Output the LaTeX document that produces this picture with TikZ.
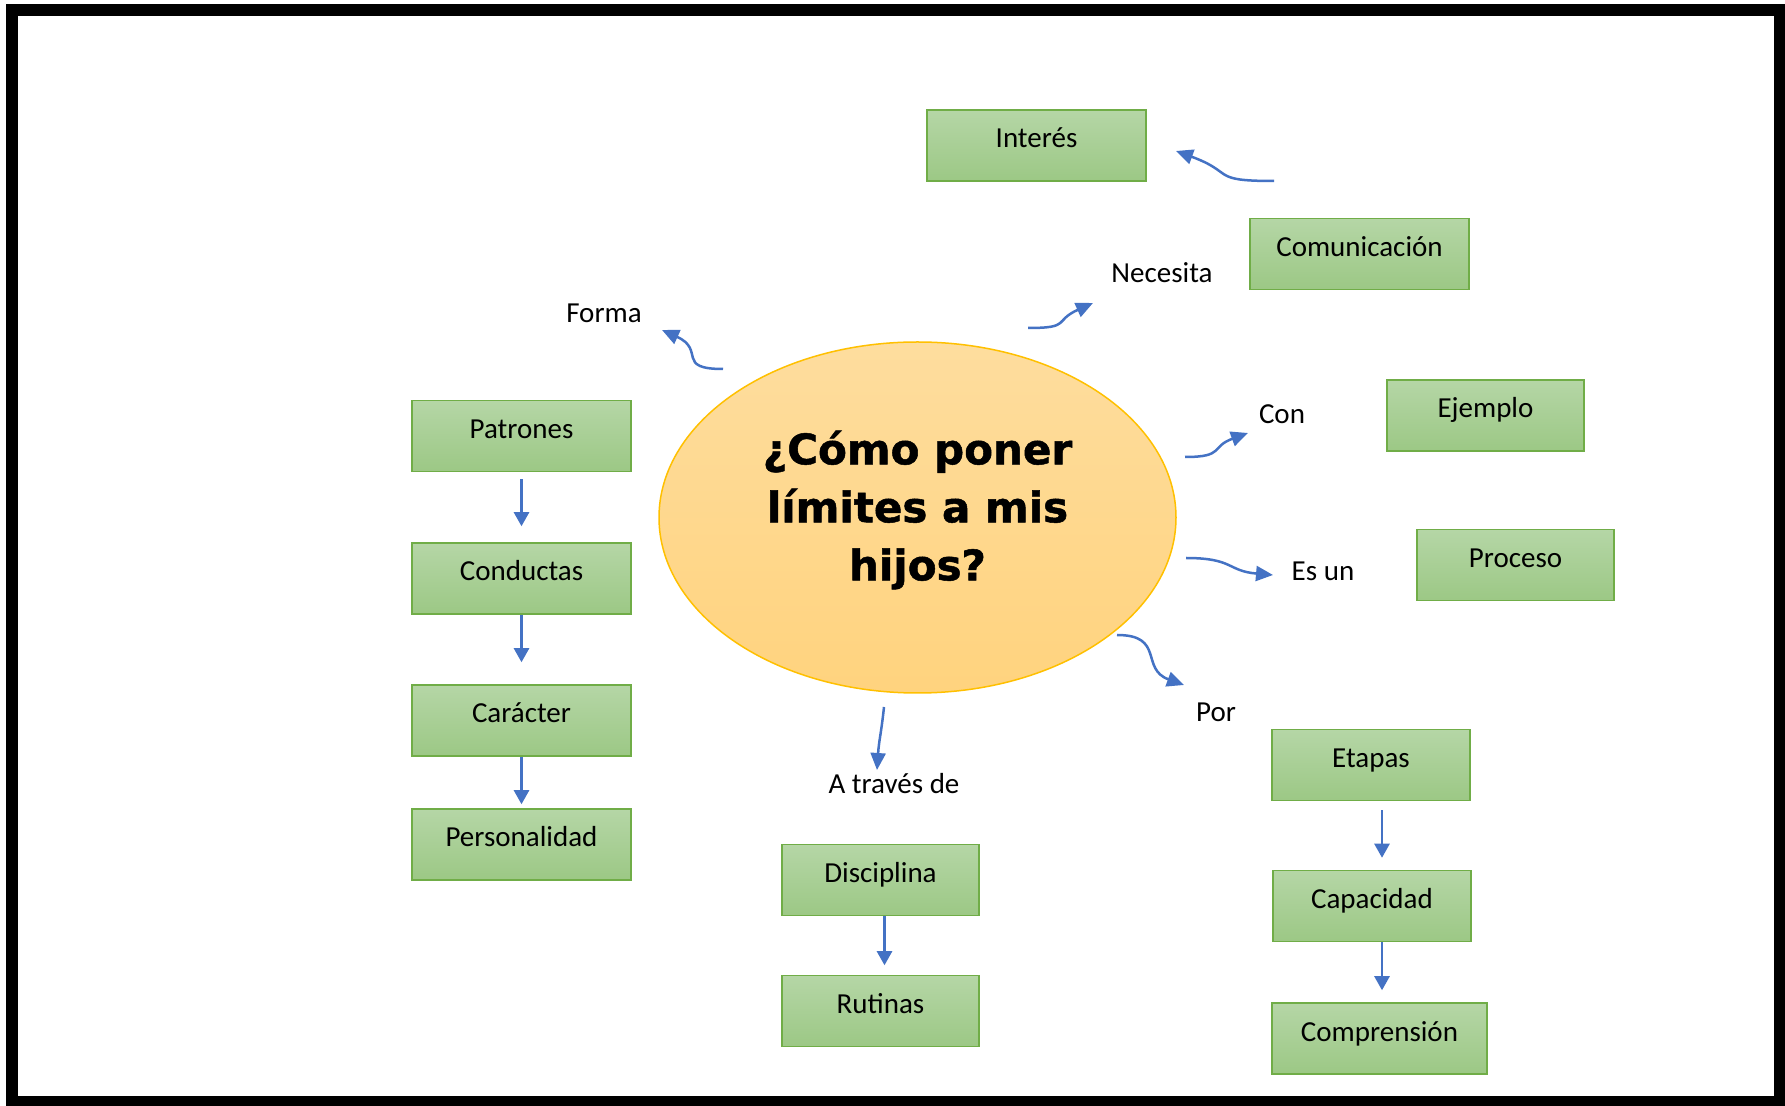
\documentclass[tikz,border=0pt]{standalone}
\usepackage{fontspec}
\setmainfont{Carlito}
\newfontfamily\titlefont[BoldFeatures={FakeBold=1.2}]{DejaVu Sans}
\usetikzlibrary{arrows.meta, shapes.geometric}
\definecolor{linkblue}{HTML}{4472C4}
\definecolor{boxtop}{HTML}{B5D6A6}
\definecolor{boxbot}{HTML}{9CC885}
\definecolor{boxedge}{HTML}{70AD47}
\definecolor{bubtop}{HTML}{FEDD9E}
\definecolor{bubbot}{HTML}{FFD37E}
\definecolor{bubedge}{HTML}{FFC000}

\begin{document}
\begin{tikzpicture}[x=0.5pt, y=-0.5pt,
    box/.style={draw=boxedge, line width=0.75pt, top color=boxtop, bottom color=boxbot,
        minimum height=35.5pt, inner sep=0pt, text height=10pt, text depth=7.5pt,
        font=\fontsize{14.5}{17}\selectfont},
    lbl/.style={inner sep=0pt, anchor=base, font=\fontsize{14.5}{17}\selectfont},
    link/.style={draw=linkblue, line width=1.25pt, -{Triangle[length=7pt,width=7.5pt]}},
    wavy/.style={draw=linkblue, line width=1.25pt, -{Triangle[length=8.5pt,width=7.5pt]}}]
            % frame
            \useasboundingbox (0,0) rectangle (1785,1106);
            \fill[white] (0,0) rectangle (1785,1106);
            \draw[line width=6pt] (12,10) rectangle (1780,1102);

            % centre
            \node[ellipse, draw=bubedge, line width=0.75pt, top color=bubtop, bottom color=bubbot,
                minimum width=258.5pt, minimum height=175.5pt, inner sep=0pt] (pregunta) at (917.5,517.5) {};
            \node[align=center, inner sep=0pt, font=\titlefont\bfseries\fontsize{21}{29}\selectfont]
                (titulo) at (917.5,510) {¿Cómo poner\\límites a mis\\hijos?};

            % boxes
            \foreach \n/\x/\y/\w/\t in {
                interes/1036.5/145.5/219/Interés,
                comunicacion/1359.5/254/219/Comunicación,
                ejemplo/1485.5/415.5/197/Ejemplo,
                proceso/1515.5/565/197/Proceso,
                patrones/521.5/436/219/Patrones,
                conductas/521.5/578.5/219/Conductas,
                caracter/521.5/720.5/219/Carácter,
                personalidad/521.5/844.5/219/Personalidad,
                disciplina/880.5/880/197/Disciplina,
                rutinas/880.5/1011/197/Rutinas,
                etapas/1371/765/198/Etapas,
                capacidad/1372/906/198/Capacidad,
                comprension/1379.5/1038.5/215/Comprensión}{
                \node[box, minimum width=\w*0.5pt] (\n) at (\x,\y) {\t};
            }

            % linking words
            \node[lbl] (forma) at (604,323) {Forma};
            \node[lbl] (necesita) at (1162,283) {Necesita};
            \node[lbl] (con) at (1282,424) {Con};
            \node[lbl] (esun) at (1323,581) {Es un};
            \node[lbl] (por) at (1216,722) {Por};
            \node[lbl] (atraves) at (894,794) {A través de};

            % ends of the curved arrows
            \coordinate (formaS) at (723,369);    \coordinate (formaE) at (662,330);
            \coordinate (necesitaS) at (1028,328); \coordinate (necesitaE) at (1093,303);
            \coordinate (interesS) at (1274,181); \coordinate (interesE) at (1176,151);
            \coordinate (conS) at (1185,457);     \coordinate (conE) at (1248,433);
            \coordinate (esunS) at (1186,558);    \coordinate (esunE) at (1273,575);
            \coordinate (porS) at (1117,635);     \coordinate (porE) at (1184,685);
            \coordinate (atravesS) at (884,707);  \coordinate (atravesE) at (877,770);

            % curved arrows
            \draw[wavy] (formaS) .. controls +(-48,0) and +(44,20) .. (formaE);
            \draw[wavy] (necesitaS) .. controls +(44,0) and +(-40,18) .. (necesitaE);
            \draw[wavy] (interesS) .. controls +(-65,0) and +(60,22) .. (interesE);
            \draw[wavy] (conS) .. controls +(40,0) and +(-38,14) .. (conE);
            \draw[wavy] (esunS) .. controls +(48,0) and +(-46,-4) .. (esunE);
            \draw[wavy] (porS) .. controls +(48,0) and +(-44,-16) .. (porE);
            \draw[wavy] (atravesS) .. controls +(-3,28) and +(2,-30) .. (atravesE);

            % straight arrows
            \draw[link, shorten <=3.5pt, shorten >=8pt] (patrones) -- (conductas);
            \draw[link, shorten >=11pt] (conductas) -- (caracter);
            \draw[link, shorten >=2pt] (caracter) -- (personalidad);
            \draw[link, shorten >=4.75pt] ([xshift=2pt]disciplina.south) -- ([xshift=2pt]rutinas.north);
            \draw[link, shorten <=4.5pt, shorten >=6pt] ([xshift=5.5pt]etapas.south) -- ([xshift=5pt]capacidad.north);
            \draw[link, shorten >=6pt] ([xshift=5pt]capacidad.south) -- ([xshift=1.25pt]comprension.north);
\end{tikzpicture}
\end{document}
